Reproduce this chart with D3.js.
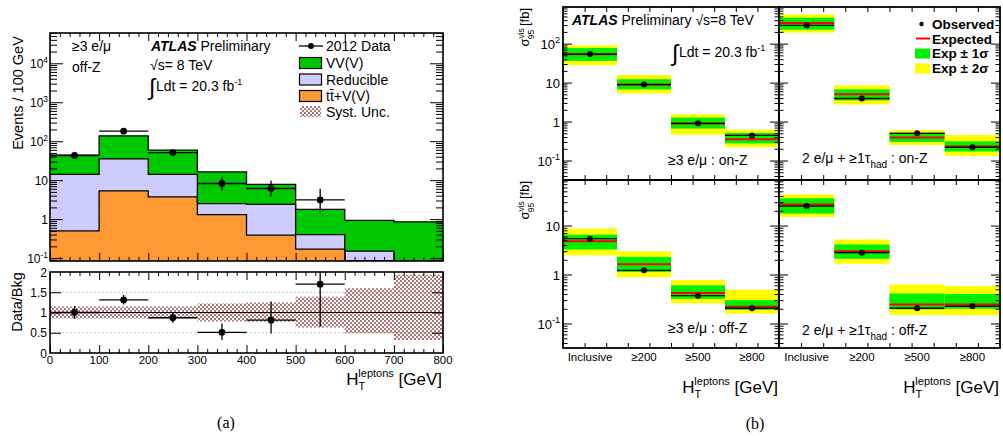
<!DOCTYPE html>
<html>
<head>
<meta charset="utf-8">
<script src="https://cdn.jsdelivr.net/npm/d3@7"></script>
<style>
body{margin:0;background:#fff}
svg{display:block;font-family:"Liberation Sans",Arial,Helvetica,sans-serif}
</style>
</head>
<body>
<svg id="fig" width="1003" height="436"></svg>
<script>
// ---------- (a) HT(leptons) distribution, >=3 e/mu off-Z ----------
var binLow = [0, 100, 200, 300, 400, 500, 600, 700]
var binWidth = 100
var ttvYield = [0.5, 5.3, 3.7, 1.3, 0.39, 0.17, 0.05, 0.03]
var reducibleYield = [13.5, 29.7, 10.3, 1.2, 2.0, 0.23, 0.10, 0.02]
var vvYield = [30, 102, 45, 13.8, 5.4, 1.37, 0.78, 0.80]
var dataYield = [43, 181, 51, 8.2, 6.1, 3.1]
var dataErrUp = [7.6, 14.5, 8.2, 4.0, 3.6, 2.9]
var dataErrDown = [6.6, 13.5, 7.1, 2.8, 2.4, 1.7]
var ratioVal = [1.0, 1.31, 0.87, 0.51, 0.81, 1.70]
var ratioErrUp = [0.16, 0.12, 0.13, 0.22, 0.46, 0.95]
var ratioErrDown = [0.16, 0.11, 0.12, 0.19, 0.33, 1.05]
var systLow = [0.85, 0.85, 0.85, 0.78, 0.77, 0.63, 0.49, 0.32]
var systHigh = [1.15, 1.15, 1.15, 1.22, 1.25, 1.39, 1.60, 1.93]
var xTickLabelsA = [0, 100, 200, 300, 400, 500, 600, 700, 800]
var ratioTickLabels = [0, 0.5, 1, 1.5, 2]
var mainTickLabels = [0.1, 1, 10, 100, 1000, 10000]

// ---------- (b) 95% CL visible cross-section limits ----------
// panel order: 3l on-Z, 2l+tau on-Z, 3l off-Z, 2l+tau off-Z
var categories = ['Inclusive', '\u2265200', '\u2265500', '\u2265800']
var observedLimit = [[54, 8.9, 0.9, 0.44], [293, 3.9, 0.50, 0.22], [5.4, 1.22, 0.37, 0.205], [25, 2.8, 0.205, 0.225]]
var expectedLimit = [[53, 8.9, 0.89, 0.35], [338, 5.0, 0.39, 0.23], [4.8, 1.62, 0.42, 0.22], [27, 3.0, 0.245, 0.245]]
var oneSigmaLow = [[36, 6.7, 0.66, 0.275], [228, 3.5, 0.30, 0.17], [3.24, 1.13, 0.32, 0.19], [17.6, 2.1, 0.195, 0.20]]
var oneSigmaHigh = [[77, 12.2, 1.27, 0.51], [465, 6.7, 0.52, 0.31], [6.5, 2.3, 0.60, 0.30], [36, 4.1, 0.41, 0.40]]
var twoSigmaLow = [[28, 5.25, 0.46, 0.22], [192, 2.76, 0.25, 0.13], [2.48, 0.88, 0.26, 0.16], [15, 1.67, 0.15, 0.148]]
var twoSigmaHigh = [[90, 15.7, 1.52, 0.62], [560, 8.5, 0.60, 0.45], [8.7, 3.0, 0.77, 0.49], [43, 5.2, 0.63, 0.58]]
var topTickLabels = [0.1, 1, 10, 100]
var bottomTickLabels = [0.1, 1, 10]

var svg = d3.select('#fig')
var defs = svg.append('defs')

var pat = defs.append('pattern').attr('id', 'syst')
	.attr('width', 4).attr('height', 4).attr('patternUnits', 'userSpaceOnUse')
pat.append('rect').attr('width', 2).attr('height', 2).attr('fill', '#b27676')
pat.append('rect').attr('x', 2).attr('y', 2).attr('width', 2).attr('height', 2).attr('fill', '#b27676')

function addClip(id, x, y, w, h){
	defs.append('clipPath').attr('id', id).append('rect')
		.attr('x', x).attr('y', y).attr('width', w).attr('height', h)
}

function logTicks(lo, hi){
	var major = [], minor = []
	for(var e = Math.floor(Math.log10(lo)); e <= Math.ceil(Math.log10(hi)); e++){
		for(var k = 1; k < 10; k++){
			var v = k * Math.pow(10, e)
			if(v < lo || v > hi) continue
			if(k === 1) major.push(v)
			else minor.push(v)
		}
	}
	return {major: major, minor: minor}
}

function tickAxis(parent, axis, tx, ty, size, values){
	parent.append('g')
		.attr('transform', 'translate(' + tx + ',' + ty + ')')
		.call(axis.tickValues(values).tickSize(size).tickFormat(''))
		.call(function(g){
			g.select('.domain').remove()
			g.selectAll('line').attr('stroke', '#000').attr('stroke-width', 1)
		})
}

// log tick label: 10 / 1 plain, others as 10^n
function logLabel(parent, x, y, v, size){
	var t = parent.append('text').attr('x', x).attr('y', y)
		.attr('text-anchor', 'end').attr('font-size', size)
	var e = Math.round(Math.log10(v))
	if(e === 0) t.text('1')
	else if(e === 1) t.text('10')
	else {
		t.append('tspan').text('10')
		t.append('tspan').attr('dy', -size * 0.42).attr('font-size', size * 0.7).text(e)
	}
	return t
}

function htLabel(parent, x, y){
	var t = parent.append('text').attr('x', x).attr('y', y)
		.attr('text-anchor', 'end').attr('font-size', 17)
	t.append('tspan').text('H')
	t.append('tspan').attr('dy', 5).attr('font-size', 11).text('T')
	t.append('tspan').attr('dx', -7).attr('dy', -13).attr('font-size', 11).text('leptons')
	t.append('tspan').attr('dy', 8).text(' [GeV]')
}

function lumiText(parent, x, y, size){
	parent.append('text').attr('x', x).attr('y', y + 4).attr('font-size', size * 1.65).text('\u222B')
	var t = parent.append('text').attr('x', x + 7).attr('y', y).attr('font-size', size)
	t.append('tspan').text('Ldt = 20.3 fb')
	t.append('tspan').attr('dy', -size * 0.42).attr('font-size', size * 0.65).text('-1')
}

// =================== (a) ===================
var a = svg.append('g')
var xA = d3.scaleLinear().domain([0, 800]).range([50, 443])
var yA = d3.scaleLog().domain([0.084, 6e4]).range([261, 33]).clamp(true)
var yR = d3.scaleLinear().domain([0, 2]).range([353, 272])

addClip('clipMain', 50, 33, 393, 228)
addClip('clipRatio', 50, 272, 393, 81)

var rows = binLow.map(function(b, i){
	return {ttv: ttvYield[i], red: reducibleYield[i], vv: vvYield[i]}
})
var series = d3.stack().keys(['ttv', 'red', 'vv'])(rows)
var stackColor = {ttv: '#ff9933', red: '#ccccff', vv: '#00c800'}

var mainG = a.append('g').attr('clip-path', 'url(#clipMain)')

var stepArea = d3.area().curve(d3.curveStepAfter)
	.x(function(d){ return xA(d.x) })
	.y0(function(d){ return yA(Math.max(d.lo, 1e-4)) })
	.y1(function(d){ return yA(Math.max(d.hi, 1e-4)) })
var stepLine = d3.line().curve(d3.curveStepAfter)
	.x(function(d){ return xA(d.x) })
	.y(function(d){ return yA(Math.max(d.hi, 1e-4)) })

var layers = series.map(function(s){
	var pts = s.map(function(d, i){ return {x: binLow[i], lo: d[0], hi: d[1]} })
	var last = pts[pts.length - 1]
	pts.push({x: last.x + binWidth, lo: last.lo, hi: last.hi})
	return {key: s.key, pts: pts}
})

layers.forEach(function(l){
	mainG.append('path').attr('d', stepArea(l.pts)).attr('fill', stackColor[l.key])
})
layers.forEach(function(l){
	mainG.append('path').attr('d', stepLine(l.pts))
		.attr('fill', 'none').attr('stroke', '#000').attr('stroke-width', 1.3)
})

dataYield.forEach(function(v, i){
	var cx = xA(binLow[i] + binWidth / 2)
	mainG.append('line').attr('x1', xA(binLow[i])).attr('x2', xA(binLow[i] + binWidth))
		.attr('y1', yA(v)).attr('y2', yA(v)).attr('stroke', '#000').attr('stroke-width', 1.3)
	mainG.append('line').attr('x1', cx).attr('x2', cx)
		.attr('y1', yA(v + dataErrUp[i])).attr('y2', yA(v - dataErrDown[i]))
		.attr('stroke', '#000').attr('stroke-width', 1.3)
	mainG.append('circle').attr('cx', cx).attr('cy', yA(v)).attr('r', 3.4).attr('fill', '#000')
})

// main axes
var mt = logTicks(0.084, 6e4)
tickAxis(a, d3.axisRight(yA), 50, 0, 13, mt.major)
tickAxis(a, d3.axisRight(yA), 50, 0, 7, mt.minor)
tickAxis(a, d3.axisLeft(yA), 443, 0, 13, mt.major)
tickAxis(a, d3.axisLeft(yA), 443, 0, 7, mt.minor)
var xMajor = d3.range(0, 801, 100), xMinor = d3.range(0, 801, 20).filter(function(v){ return v % 100 })
tickAxis(a, d3.axisTop(xA), 0, 261, 8, xMajor)
tickAxis(a, d3.axisTop(xA), 0, 261, 4, xMinor)
tickAxis(a, d3.axisBottom(xA), 0, 33, 8, xMajor)
tickAxis(a, d3.axisBottom(xA), 0, 33, 4, xMinor)
a.append('rect').attr('x', 50).attr('y', 33).attr('width', 393).attr('height', 228)
	.attr('fill', 'none').attr('stroke', '#000').attr('stroke-width', 1.6)

mainTickLabels.forEach(function(v){
	logLabel(a, 48, yA(v) + 4.5, v, 12)
})

// ratio
var ratioG = a.append('g').attr('clip-path', 'url(#clipRatio)')
var bandPts = binLow.map(function(b, i){ return {x: b, lo: systLow[i], hi: systHigh[i]} })
bandPts.push({x: 800, lo: systLow[systLow.length - 1], hi: systHigh[systHigh.length - 1]})
ratioG.append('path')
	.attr('d', d3.area().curve(d3.curveStepAfter)
		.x(function(d){ return xA(d.x) })
		.y0(function(d){ return yR(d.lo) })
		.y1(function(d){ return yR(d.hi) })(bandPts))
	.attr('fill', 'url(#syst)')
;[0.5, 1.5].forEach(function(v){
	ratioG.append('line').attr('x1', 50).attr('x2', 443).attr('y1', yR(v)).attr('y2', yR(v))
		.attr('stroke', '#aaa').attr('stroke-width', 1).attr('stroke-dasharray', '1.5,2.5')
})
ratioG.append('line').attr('x1', 50).attr('x2', 443).attr('y1', yR(1)).attr('y2', yR(1))
	.attr('stroke', '#000').attr('stroke-width', 1)
ratioVal.forEach(function(v, i){
	var cx = xA(binLow[i] + binWidth / 2)
	ratioG.append('line').attr('x1', xA(binLow[i])).attr('x2', xA(binLow[i] + binWidth))
		.attr('y1', yR(v)).attr('y2', yR(v)).attr('stroke', '#000').attr('stroke-width', 1.3)
	ratioG.append('line').attr('x1', cx).attr('x2', cx)
		.attr('y1', yR(v + ratioErrUp[i])).attr('y2', yR(v - ratioErrDown[i]))
		.attr('stroke', '#000').attr('stroke-width', 1.3)
	ratioG.append('circle').attr('cx', cx).attr('cy', yR(v)).attr('r', 3.4).attr('fill', '#000')
})
tickAxis(a, d3.axisRight(yR), 50, 0, 11, [0.5, 1, 1.5])
tickAxis(a, d3.axisLeft(yR), 443, 0, 11, [0.5, 1, 1.5])
tickAxis(a, d3.axisTop(xA), 0, 353, 8, xMajor)
tickAxis(a, d3.axisTop(xA), 0, 353, 4, xMinor)
tickAxis(a, d3.axisBottom(xA), 0, 272, 8, xMajor)
tickAxis(a, d3.axisBottom(xA), 0, 272, 4, xMinor)
a.append('rect').attr('x', 50).attr('y', 272).attr('width', 393).attr('height', 81)
	.attr('fill', 'none').attr('stroke', '#000').attr('stroke-width', 1.6)

ratioTickLabels.forEach(function(v){
	a.append('text').attr('x', 47).attr('y', yR(v) + 4.5).attr('text-anchor', 'end')
		.attr('font-size', 12).text(v)
})
xTickLabelsA.forEach(function(v){
	a.append('text').attr('x', xA(v)).attr('y', 364).attr('text-anchor', 'middle')
		.attr('font-size', 11.5).text(v)
})

a.append('text').attr('transform', 'translate(23,93) rotate(-90)').attr('text-anchor', 'middle')
	.attr('font-size', 14.5).text('Events / 100 GeV')
a.append('text').attr('transform', 'translate(22,302) rotate(-90)').attr('text-anchor', 'middle')
	.attr('font-size', 14.5).text('Data/Bkg')
htLabel(a, 442, 385)

// labels in (a)
a.append('text').attr('x', 72).attr('y', 51).attr('font-size', 14).text('\u22653 e/\u03BC')
a.append('text').attr('x', 72).attr('y', 72).attr('font-size', 14).text('off-Z')
var atl = a.append('text').attr('x', 151).attr('y', 51).attr('font-size', 14)
atl.append('tspan').attr('font-weight', 'bold').attr('font-style', 'italic').text('ATLAS')
atl.append('tspan').text(' Preliminary')
a.append('text').attr('x', 150).attr('y', 70).attr('font-size', 14).text('\u221As= 8 TeV')
lumiText(a, 149, 91, 14)

// legend (a)
var legA = a.append('g')
legA.append('line').attr('x1', 299).attr('x2', 323).attr('y1', 46).attr('y2', 46)
	.attr('stroke', '#000').attr('stroke-width', 1.3)
legA.append('circle').attr('cx', 311).attr('cy', 46).attr('r', 3).attr('fill', '#000')
var legItems = [
	{fill: stackColor.vv, label: 'VV(V)', y: 57.5},
	{fill: stackColor.red, label: 'Reducible', y: 74},
	{fill: stackColor.ttv, label: 'tt\u0304+V(V)', y: 90.5}
]
legItems.forEach(function(d){
	legA.append('rect').attr('x', 299.5).attr('y', d.y).attr('width', 22).attr('height', 11)
		.attr('fill', d.fill).attr('stroke', '#000').attr('stroke-width', 1.2)
	legA.append('text').attr('x', 326).attr('y', d.y + 10.5).attr('font-size', 14).text(d.label)
})
legA.append('rect').attr('x', 300).attr('y', 106).attr('width', 21).attr('height', 11).attr('fill', 'url(#syst)')
legA.append('text').attr('x', 326).attr('y', 117).attr('font-size', 14).text('Syst. Unc.')
legA.append('text').attr('x', 326).attr('y', 51).attr('font-size', 14).text('2012 Data')

svg.append('text').attr('x', 226).attr('y', 428).attr('text-anchor', 'middle')
	.attr('font-family', '"Liberation Serif","Times New Roman",serif').attr('font-size', 16).text('(a)')

// =================== (b) ===================
var b = svg.append('g')
var colX = [[563, 779], [779, 1000]]
var rowY = [[7, 180], [180, 348]]
var yB = [
	d3.scaleLog().domain([Math.pow(10, -1.5), Math.pow(10, 2.94)]).range([180, 7]),
	d3.scaleLog().domain([Math.pow(10, -1.5), Math.pow(10, 1.93)]).range([348, 180])
]
var panelLabel = [
	{main: '\u22653 e/\u03BC : on-Z', tau: false, x: 668, y: 165},
	{main: '2 e/\u03BC + \u22651\u03C4', tau: true, tail: ' : on-Z', x: 802, y: 163},
	{main: '\u22653 e/\u03BC : off-Z', tau: false, x: 668, y: 333},
	{main: '2 e/\u03BC + \u22651\u03C4', tau: true, tail: ' : off-Z', x: 802, y: 335}
]

observedLimit.forEach(function(obs, p){
	var col = p % 2, row = Math.floor(p / 2)
	var x0 = colX[col][0], x1 = colX[col][1]
	var y0 = rowY[row][0], y1 = rowY[row][1]
	var yS = yB[row]
	var xS = d3.scaleBand().domain(categories).range([x0, x1])
	var id = 'clipB' + p
	addClip(id, x0, y0, x1 - x0, y1 - y0)
	var g = b.append('g').attr('clip-path', 'url(#' + id + ')')

	categories.forEach(function(c, i){
		var bx = xS(c), bw = xS.bandwidth()
		g.append('rect').attr('x', bx).attr('width', bw)
			.attr('y', yS(twoSigmaHigh[p][i])).attr('height', yS(twoSigmaLow[p][i]) - yS(twoSigmaHigh[p][i]))
			.attr('fill', '#ffff00')
		g.append('rect').attr('x', bx).attr('width', bw)
			.attr('y', yS(oneSigmaHigh[p][i])).attr('height', yS(oneSigmaLow[p][i]) - yS(oneSigmaHigh[p][i]))
			.attr('fill', '#00ee00')
		g.append('line').attr('x1', bx).attr('x2', bx + bw)
			.attr('y1', yS(expectedLimit[p][i])).attr('y2', yS(expectedLimit[p][i]))
			.attr('stroke', '#ff0000').attr('stroke-width', 2)
		g.append('line').attr('x1', bx).attr('x2', bx + bw)
			.attr('y1', yS(obs[i])).attr('y2', yS(obs[i]))
			.attr('stroke', '#000').attr('stroke-width', 1.3)
		g.append('circle').attr('cx', bx + bw / 2).attr('cy', yS(obs[i])).attr('r', 3).attr('fill', '#000')
	})

	var t = logTicks(yS.domain()[0], yS.domain()[1])
	tickAxis(b, d3.axisRight(yS), x0, 0, 9, t.major)
	tickAxis(b, d3.axisRight(yS), x0, 0, 4.5, t.minor)
	tickAxis(b, d3.axisLeft(yS), x1, 0, 9, t.major)
	tickAxis(b, d3.axisLeft(yS), x1, 0, 4.5, t.minor)
	var xt = d3.scaleLinear().domain([0, 10]).range([x0, x1])
	tickAxis(b, d3.axisTop(xt), 0, y1, 5, d3.range(1, 10))
	tickAxis(b, d3.axisBottom(xt), 0, y0, 5, d3.range(1, 10))
	b.append('rect').attr('x', x0).attr('y', y0).attr('width', x1 - x0).attr('height', y1 - y0)
		.attr('fill', 'none').attr('stroke', '#000').attr('stroke-width', 1.8)

	if(row === 1){
		categories.forEach(function(c){
			b.append('text').attr('x', xS(c) + xS.bandwidth() / 2).attr('y', 361)
				.attr('text-anchor', 'middle').attr('font-size', 11.5).text(c)
		})
	}

	var pl = panelLabel[p]
	var lt = b.append('text').attr('x', pl.x).attr('y', pl.y).attr('font-size', 14)
	lt.append('tspan').text(pl.main)
	if(pl.tau){
		lt.append('tspan').attr('dy', 5).attr('font-size', 10).text('had')
		lt.append('tspan').attr('dy', -5).text(pl.tail)
	}
})

topTickLabels.forEach(function(v){ logLabel(b, 560, yB[0](v) + 5, v, 13) })
bottomTickLabels.forEach(function(v){ logLabel(b, 560, yB[1](v) + 5, v, 13) })

function sigmaLabel(cx, top){
	var t = b.append('text').attr('transform', 'translate(' + cx + ',' + top + ') rotate(-90)')
		.attr('text-anchor', 'end').attr('font-size', 13)
	t.append('tspan').text('\u03C3')
	t.append('tspan').attr('dy', -5).attr('font-size', 8.5).text('vis')
	t.append('tspan').attr('dx', -11).attr('dy', 10).attr('font-size', 8.5).text('95')
	t.append('tspan').attr('dy', -5).text(' [fb]')
}
sigmaLabel(529, 8)
sigmaLabel(529, 181)

var atlB = b.append('text').attr('x', 572).attr('y', 25).attr('font-size', 14)
atlB.append('tspan').attr('font-weight', 'bold').attr('font-style', 'italic').text('ATLAS')
atlB.append('tspan').text(' Preliminary \u221As=8 TeV')
lumiText(b, 672, 57, 14)

// legend (b)
var legB = b.append('g').attr('font-size', 13.5).attr('font-weight', 'bold')
legB.append('circle').attr('cx', 921.5).attr('cy', 24).attr('r', 2.2).attr('fill', '#000')
legB.append('text').attr('x', 932).attr('y', 29).text('Observed')
legB.append('line').attr('x1', 916).attr('x2', 930).attr('y1', 38.5).attr('y2', 38.5)
	.attr('stroke', '#ff0000').attr('stroke-width', 2)
legB.append('text').attr('x', 932).attr('y', 43.5).text('Expected')
legB.append('rect').attr('x', 915).attr('y', 48.5).attr('width', 15).attr('height', 10).attr('fill', '#00ee00')
legB.append('text').attr('x', 932).attr('y', 58).text('Exp \u00B1 1\u03C3')
legB.append('rect').attr('x', 915).attr('y', 63.5).attr('width', 15).attr('height', 10).attr('fill', '#ffff00')
legB.append('text').attr('x', 932).attr('y', 73).text('Exp \u00B1 2\u03C3')

htLabel(b, 778, 393)
htLabel(b, 999, 393)

svg.append('text').attr('x', 755).attr('y', 429).attr('text-anchor', 'middle')
	.attr('font-family', '"Liberation Serif","Times New Roman",serif').attr('font-size', 16).text('(b)')
</script>
</body>
</html>
